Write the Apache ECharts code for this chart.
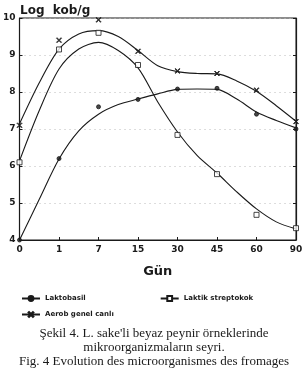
<!DOCTYPE html>
<html>
<head>
<meta charset="utf-8">
<script src="https://cdn.jsdelivr.net/npm/echarts@6/dist/echarts.min.js"></script>
<style>
  html, body { margin: 0; padding: 0; background: #fff; }
  #chart { width: 308px; height: 369px; }
</style>
</head>
<body>
<div id="chart"></div>
<script>
// gün (days) on x axis, drawn equally spaced
const days = ['0', '1', '7', '15', '30', '45', '60', '90'];
const yTicks = [4, 5, 6, 7, 8, 9, 10];

// measured points, one per day
const aerobPts = [7.1, 9.4, 9.95, 9.1, 8.57, 8.5, 8.05, 7.2];
const streptoPts = [6.1, 9.15, 9.6, 8.73, 6.84, 5.78, 4.68, 4.32];
const laktoPts = [4.0, 6.2, 7.6, 7.8, 8.08, 8.1, 7.4, 7.0];

// hand-drawn fitted curves, every half step
const fitPos = [0, 0.5, 1, 1.5, 2, 2.5, 3, 3.5, 4, 4.5, 5, 5.5, 6, 6.5, 7];
const aerobFit = [7.14, 8.25, 9.16, 9.57, 9.66, 9.5, 9.12, 8.71, 8.55, 8.5, 8.49, 8.3, 8.02, 7.63, 7.21];
const streptoFit = [6.14, 7.5, 8.62, 9.16, 9.34, 9.12, 8.65, 7.73, 6.92, 6.28, 5.81, 5.3, 4.84, 4.49, 4.3];
const laktoFit = [4.0, 5.1, 6.19, 6.95, 7.4, 7.66, 7.81, 7.95, 8.07, 8.08, 8.07, 7.81, 7.46, 7.23, 7.03];

const ink = '#1a1a1a';
const xMark = 'path://M0,1L1,0L5,4L9,0L10,1L6,5L10,9L9,10L5,6L1,10L0,9L4,5Z';

const chart = echarts.init(document.getElementById('chart'));

function curve(name, vals, symbol, symColor) {
  return {
    name: name,
    type: 'line',
    data: fitPos.map((p, i) => [p, vals[i]]),
    smooth: 0.3,
    showSymbol: false,
    symbol: symbol,
    symbolSize: 5,
    lineStyle: { color: ink, width: 1.1 },
    itemStyle: { color: symColor, borderColor: ink, borderWidth: 1 },
    z: 2
  };
}
function points(vals, symbol, size, color) {
  return {
    type: 'scatter',
    data: vals.map((v, i) => [i, v]),
    symbol: symbol,
    symbolSize: size,
    itemStyle: { color: color, borderColor: ink, borderWidth: 1 },
    z: 3
  };
}

const capStyle = { fontFamily: 'Liberation Serif', fontSize: 13, fontWeight: 'normal', color: ink };

const option = {
  animation: false,
  title: [
    {
      text: 'Log  kob/g',
      left: 15, top: 0,
      textStyle: { fontFamily: 'DejaVu Sans', fontSize: 12, fontWeight: 'bold', color: ink }
    },
    { text: 'Şekil 4. L. sake\'li beyaz peynir örneklerinde', left: 'center', top: 327, padding: 0, textStyle: capStyle },
    { text: 'mikroorganizmaların seyri.', left: 'center', top: 341, padding: 0, textStyle: capStyle },
    { text: 'Fig. 4 Evolution des microorganismes des fromages', left: 'center', top: 355, padding: 0, textStyle: capStyle }
  ],
  legend: [
    {
      data: ['Laktobasil', 'Laktik streptokok'],
      left: 16, top: 290,
      itemWidth: 18, itemHeight: 6, itemGap: 74,
      textStyle: { fontFamily: 'DejaVu Sans', fontSize: 7, fontWeight: 'bold', color: ink }
    },
    {
      data: ['Aerob genel canlı'],
      left: 16, top: 306,
      itemWidth: 18, itemHeight: 6,
      textStyle: { fontFamily: 'DejaVu Sans', fontSize: 7, fontWeight: 'bold', color: ink }
    }
  ],
  grid: { left: 16, right: 12, top: 18, bottom: 129, show: true, borderColor: ink, borderWidth: 1 },
  xAxis: {
    type: 'value',
    min: 0, max: days.length - 1, interval: 1,
    name: 'Gün',
    nameLocation: 'middle',
    nameGap: 25,
    nameTextStyle: { fontFamily: 'DejaVu Sans', fontSize: 13, fontWeight: 'bold', color: ink },
    axisLine: { show: true, lineStyle: { color: ink, width: 1.2 } },
    axisTick: { show: true, inside: true, length: 3, lineStyle: { color: ink } },
    axisLabel: {
      fontFamily: 'DejaVu Sans', fontSize: 9, fontWeight: 'bold', color: ink, margin: 5,
      formatter: v => days[v]
    },
    splitLine: { show: false }
  },
  yAxis: [
    {
      type: 'value',
      min: yTicks[0], max: yTicks[yTicks.length - 1], interval: 1,
      axisLine: { show: true, lineStyle: { color: ink, width: 1.2 } },
      axisTick: { show: true, inside: true, length: 3, lineStyle: { color: ink } },
      axisLabel: { fontFamily: 'DejaVu Sans', fontSize: 9, fontWeight: 'bold', color: ink, margin: 4 },
      splitLine: { show: true, lineStyle: { color: '#bbb', type: [1, 4], width: 1 } }
    },
    {
      type: 'value',
      position: 'right',
      min: yTicks[0], max: yTicks[yTicks.length - 1], interval: 1,
      axisLine: { show: true, lineStyle: { color: ink, width: 1.2 } },
      axisTick: { show: true, inside: true, length: 3, lineStyle: { color: ink } },
      axisLabel: { show: false },
      splitLine: { show: false }
    }
  ],
  series: [
    curve('Aerob genel canlı', aerobFit, xMark, ink),
    curve('Laktik streptokok', streptoFit, 'rect', '#fff'),
    curve('Laktobasil', laktoFit, 'circle', ink),
    points(aerobPts, xMark, 5, ink),
    points(streptoPts, 'rect', 5, '#fff'),
    points(laktoPts, 'circle', 4, ink)
  ]
};

chart.setOption(option);
</script>
</body>
</html>
